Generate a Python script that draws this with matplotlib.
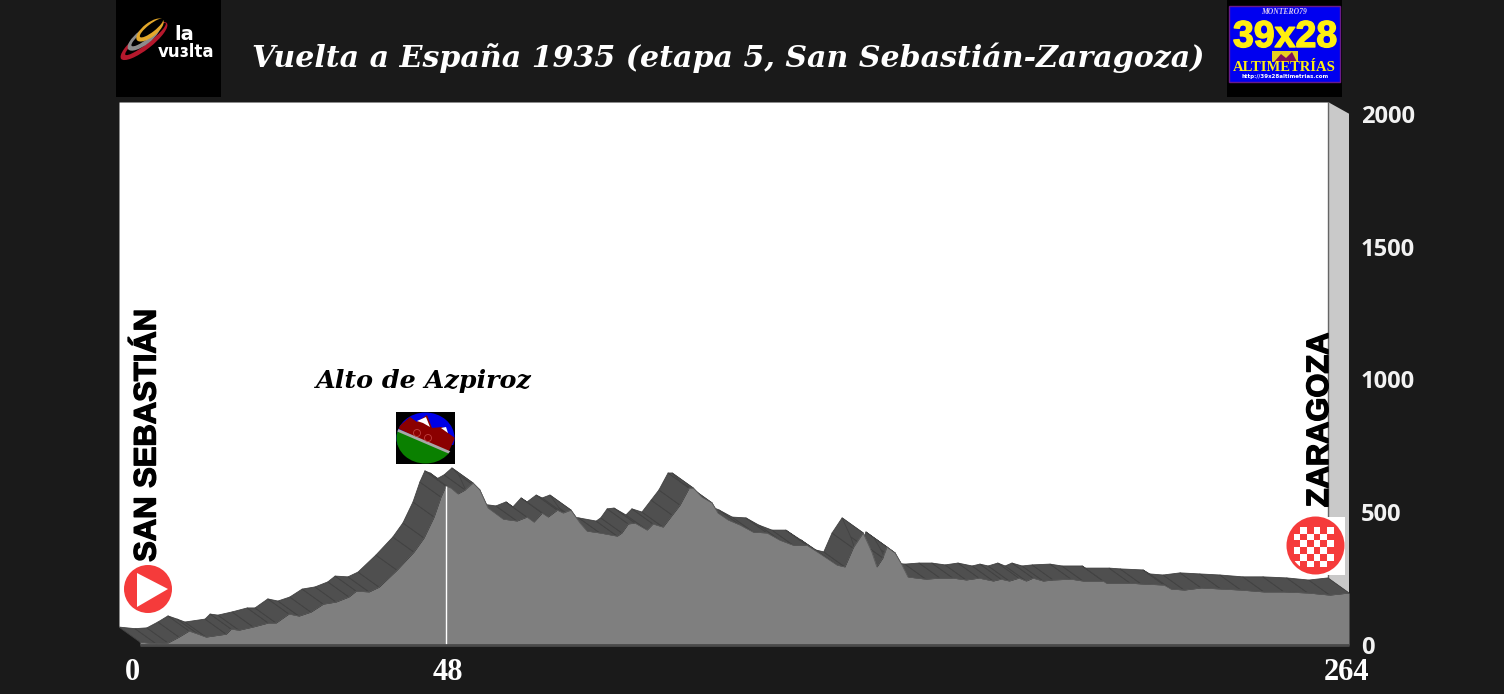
import numpy as np
import matplotlib
matplotlib.use('Agg')
import matplotlib.pyplot as plt
import matplotlib.patheffects as pe
from matplotlib.collections import PolyCollection
from matplotlib.patches import Circle, Ellipse, Polygon, Rectangle

# profile (x axis is linear, the 48 tick is not at km 48)
km = [0, 3.5, 6.1, 8.5, 10.7, 12.7, 14.4, 18.8, 19.9, 21.6, 24.7, 28.0, 29.7, 32.5, 34.7, 37.3,
      40.0, 42.8, 45.6, 47.2, 50.0, 52.2, 56.1, 59.8, 62.0, 64.2, 65.7, 66.8, 67.9, 69.4, 71.0,
      72.7, 74.2, 76.0, 79.3, 82.3, 84.5, 86.0, 87.8, 89.1, 91.1, 92.4, 94.1, 96.1, 97.6, 100.4,
      104.2, 105.2, 106.6, 108.1, 110.7, 112.0, 114.2, 116.2, 117.9, 119.9, 120.8, 122.7, 124.9,
      126.2, 128.4, 131.0, 133.9, 136.9, 139.7, 142.6, 145.6, 148.9, 152.2, 153.9, 155.7, 157.9,
      159.8, 160.9, 162.2, 163.1, 164.9, 166.4, 167.7, 171.6, 174.7, 177.5, 180.4, 183.2, 186.3,
      188.0, 189.8, 191.9, 193.5, 195.0, 197.2, 199.4, 203.3, 205.9, 210.3, 211.0, 216.2, 218.6,
      223.6, 225.1, 228.0, 231.7, 236.0, 240.4, 245.4, 249.8, 255.0, 259.8, 264]
alt = [11, 5, 8, 30, 53, 41, 30, 41, 60, 56, 68, 83, 83, 117, 109, 124,
       154, 162, 181, 203, 200, 218, 282, 350, 403, 482, 557, 599, 591, 569, 584,
       610, 584, 516, 474, 467, 482, 463, 497, 482, 508, 497, 508, 459, 429, 422,
       410, 422, 456, 459, 433, 456, 444, 489, 527, 591, 591, 557, 535,
       497, 471, 452, 425, 422, 395, 376, 376, 339, 301, 294, 365, 422,
       350, 294, 328, 369, 346, 301, 256, 248, 252, 252, 245, 252, 241,
       248, 241, 252, 241, 252, 241, 245, 248, 241, 241, 233, 233, 230,
       226, 211, 207, 215, 211, 207, 200, 200, 196, 188, 196]

pass_km = 66.8
pass_alt = 599

xtick_pos = [-1.75, 67.3, 263.4]
xtick_labels = ['0', '48', '264']
yticks = [0, 500, 1000, 1500, 2000]

title = 'Vuelta a España 1935 (etapa 5, San Sebastián-Zaragoza)'

BG = '#1a1a1a'
W, H = 1504, 694
km = np.array(km)
alt = np.array(alt)

# the ribbon is the same profile pushed back in x and up in y
dx = 4.585
dy = 56.5
top = 2044

fig = plt.figure(figsize=(15.04, 6.94), dpi=100, facecolor=BG)
ax = fig.add_axes([119 / W, 1 - 645 / H, 1230 / W, 543 / H])
ax.set_facecolor('none')
ax.set_xlim(-dx, 264)
ax.set_ylim(0, top)

ax.fill_between(km - dx, alt + dy, top, color='white', lw=0, zorder=1)
wall_x = [264 - dx, 264, 264, 264 - dx]
wall_y = [top, 2000, alt[-1], alt[-1] + dy]
ax.fill(wall_x, wall_y, color='#c9c9c9', lw=0, zorder=1)
ax.plot([264 - dx, 264 - dx], [alt[-1] + dy, top], color='#666666', lw=1, zorder=2)

quads = []
for i in range(len(km) - 1):
    quads.append([(km[i], alt[i]), (km[i + 1], alt[i + 1]),
                  (km[i + 1] - dx, alt[i + 1] + dy), (km[i] - dx, alt[i] + dy)])
ax.add_collection(PolyCollection(quads, facecolor='#4f4f4f', edgecolor='#434343', lw=0.6, zorder=3))

ax.fill_between(km, 0, alt, color='#7f7f7f', lw=0, zorder=4)
ax.plot(km, alt, color='#5a5a5a', lw=0.6, zorder=4)
ax.vlines(pass_km, 0, pass_alt, color='white', lw=1, zorder=5)
ax.hlines(0, 0, 264, color='#4a4a4a', lw=2, zorder=5, clip_on=False)

for s in ax.spines.values():
    s.set_visible(False)
ax.yaxis.tick_right()
ax.set_yticks(yticks)
ax.set_yticklabels([str(t) for t in yticks], fontfamily='Open Sans', fontweight='bold', fontsize=17, color='#f2f2f2')
ax.set_xticks(xtick_pos)
ax.set_xticklabels(xtick_labels, fontfamily='Liberation Serif', fontweight='bold', fontsize=22, color='white')
ax.tick_params(axis='y', length=0, pad=8.5)
ax.tick_params(axis='x', length=0, pad=9)

# overlay in picture pixels for the logos and names
ov = fig.add_axes([0, 0, 1, 1], zorder=10)
ov.set_xlim(0, W)
ov.set_ylim(H, 0)
ov.axis('off')
ov.patch.set_alpha(0)

ov.text(728, 58, title, family='DejaVu Serif', style='italic', weight='bold', fontsize=21.6,
        color='white', ha='center', va='center')
ov.text(424, 381, 'Alto de Azpiroz', family='DejaVu Serif', style='italic', weight='bold', fontsize=18.3,
        color='black', ha='center', va='center')
heavy = [pe.withStroke(linewidth=1, foreground='black')]
ov.text(147.5, 435, 'SAN SEBASTIÁN', family='Liberation Sans', weight='bold', fontsize=22.3,
        color='black', rotation=90, ha='center', va='center', path_effects=heavy)
ov.text(1320, 420, 'ZARAGOZA', family='Liberation Sans', weight='bold', fontsize=22.2,
        color='black', rotation=90, ha='center', va='center', path_effects=heavy)

# start marker
RED = '#f53b3b'
ov.add_patch(Circle((148, 589), 24, color=RED, lw=0))
ov.add_patch(Polygon([(137, 573), (168, 589), (137, 607)], color='white', lw=0))

# finish marker
ov.add_patch(Rectangle((1286, 517), 59, 58, color='white', lw=0))
ov.add_patch(Circle((1315.5, 545.5), 29, color=RED, lw=0))
clip = Circle((1315.5, 545.5), 26, transform=ov.transData)
for r in range(6):
    for c in range(6):
        if (r + c) % 2 == 1:
            sq = Rectangle((1293.5 + c * 6.7, 527 + r * 6.7), 6.7, 6.7, color='white', lw=0)
            ov.add_patch(sq)
            sq.set_clip_path(clip)

# mountain pass badge
ov.add_patch(Rectangle((396, 412), 59, 52, color='black', lw=0))
cx, cy = 425.5, 438
parts = [
    ([(396, 412), (455, 412), (455, 445), (396, 445)], '#0000e6'),
    ([(397, 428), (410, 417), (417, 422), (427, 415), (432, 428), (442, 427), (448, 433), (455, 438), (448, 453)], '#8b0000'),
    ([(396, 430), (452, 454), (452, 470), (396, 470)], '#0a8000'),
    ([(396, 428), (452, 452), (452, 455), (396, 431)], '#a8a8a8'),
    ([(417, 421), (426, 417), (430, 427), (423, 423)], 'white'),
    ([(441, 428), (446, 427), (448, 433)], 'white'),
]
for pts, col in parts:
    p = Polygon(pts, color=col, lw=0)
    ov.add_patch(p)
    p.set_clip_path(Ellipse((cx, cy), 58, 51, transform=ov.transData))
ov.add_patch(Circle((417, 433), 3.5, fill=False, edgecolor='#c04040', lw=0.6))
ov.add_patch(Circle((428, 438), 3.5, fill=False, edgecolor='#c04040', lw=0.6))

# la vuelta logo
ov.add_patch(Rectangle((116, 0), 105, 97, color='black', lw=0))
for xy, w, h, col in [((144, 41), 58, 17, '#b5182c'), ((144, 37), 40, 15, '#8c8c8c'), ((150, 30), 33, 14, '#e3a72a')]:
    ov.add_patch(Ellipse(xy, w, h, angle=-38, color=col, lw=0))
    ov.add_patch(Ellipse((xy[0] + 1.5, xy[1] - 2), w * 0.88, h * 0.55, angle=-38, color='black', lw=0))
ov.text(184, 34, 'la', family='DejaVu Sans', weight='bold', fontsize=14, color='white', ha='center', va='center')
ov.text(186, 52, 'vuɜlta', family='DejaVu Sans', weight='bold', fontsize=12, color='white', ha='center', va='center')

# 39x28 logo
ov.add_patch(Rectangle((1227, 0), 115, 97, color='black', lw=0))
ov.add_patch(Rectangle((1229, 6), 111, 76, facecolor='#0000f0', edgecolor='#6a1a8a', lw=1))
ov.text(1284, 12, 'MONTERO79', family='Liberation Serif', style='italic', weight='bold', fontsize=5.5,
        color='#d8c8f0', ha='center', va='center')
ov.text(1285, 37, '39x28', family='Liberation Sans', weight='bold', fontsize=27,
        color='#ffee10', ha='center', va='center', path_effects=[pe.withStroke(linewidth=1, foreground='#ffee10')])
ov.add_patch(Rectangle((1272, 51), 26, 11, color='#e8d020', lw=0))
ov.add_patch(Polygon([(1274, 62), (1281, 54), (1286, 58), (1292, 52), (1297, 62)], color='#801060', lw=0))
ov.text(1284, 67, 'ALTIMETRÍAS', family='Liberation Serif', weight='bold', fontsize=10.5,
        color='#ffee10', ha='center', va='center')
ov.text(1285, 76.5, 'http://39x28altimetrias.com', family='DejaVu Sans', weight='bold', fontsize=4,
        color='white', ha='center', va='center')

fig.savefig('out.png', dpi=100, facecolor=BG)
